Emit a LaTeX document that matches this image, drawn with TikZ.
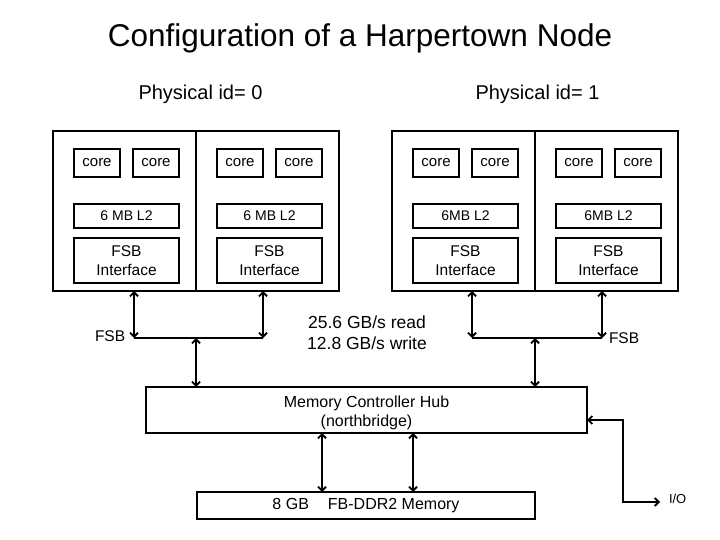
\documentclass[tikz,border=0pt]{standalone}
\usepackage{fontspec}
\setmainfont{Liberation Sans}
\usetikzlibrary{arrows.meta}
\begin{document}
\begin{tikzpicture}[x=1pt,y=-1pt,
  cpu/.style={draw, line width=2.2pt, inner sep=0pt, outer sep=0pt, anchor=north west, minimum width=143pt, minimum height=160pt},
  ibox/.style={draw, line width=1.3pt, inner sep=0pt, outer sep=0pt, anchor=north west, align=center},
  corebox/.style={ibox, minimum width=46pt, minimum height=28pt, font=\fontsize{15}{18}\selectfont},
  l2box/.style={ibox, minimum width=105pt, minimum height=24pt, font=\fontsize{14}{17}\selectfont},
  fsbbox/.style={ibox, minimum width=105pt, minimum height=45pt, font=\fontsize{15.5}{19}\selectfont},
  bigbox/.style={draw, line width=1.7pt, inner sep=0pt, outer sep=0pt, anchor=north west, align=center, font=\fontsize{16}{19}\selectfont},
  lbl/.style={inner sep=0pt, outer sep=0pt},
  bus/.style={line width=1.8pt},
  barb/.tip={Straight Barb[length=4pt,width=8pt]},
  dar/.style={bus, barb-barb}]
\useasboundingbox (0,0) rectangle (720,540);

% title
\node[lbl, anchor=base, font=\fontsize{31.5}{36}\selectfont] (title) at (360,47) {Configuration of a Harpertown Node};
\node[lbl, anchor=base, font=\fontsize{20}{24}\selectfont] (pid0) at (200.5,100) {Physical id= 0};
\node[lbl, anchor=base, font=\fontsize{20}{24}\selectfont] (pid1) at (537.5,100) {Physical id= 1};

% processor halves
\foreach \h/\n/\t in {53/a/6 MB L2, 196/b/6 MB L2, 392/c/6MB L2, 535/d/6MB L2}{
  \node[cpu] (cpu\n) at (\h,131) {};
  \node[corebox] (corea\n) at (\h+21,149) {core};
  \node[corebox] (coreb\n) at (\h+80,149) {core};
  \node[l2box] (l2\n) at (\h+21,204) {\t};
  \node[fsbbox] (fsb\n) at (\h+21,238) {FSB\\Interface};
}

% memory controller hub and memory
\node[bigbox, minimum width=441pt, minimum height=46pt] (mch) at (146,387) {};
\node[lbl, align=center, font=\fontsize{16}{19}\selectfont, yshift=-3pt] (mchtext) at (mch.center) {Memory Controller Hub\\(northbridge)};
\node[bigbox, line width=2pt, minimum width=338pt, minimum height=27pt] (mem) at (197,492) {8 GB\hspace{19pt}FB-DDR2 Memory};

% FSB buses
\coordinate (bl1) at (134,338);
\coordinate (bl2) at (263,338);
\coordinate (blm) at (196,338);
\coordinate (br1) at (472,338);
\coordinate (br2) at (602,338);
\coordinate (brm) at (535,338);
\draw[bus] (bl1) -- (bl2);
\draw[bus] (br1) -- (br2);
\draw[dar] (bl1 |- cpua.south) -- (bl1);
\draw[dar] (bl2 |- cpub.south) -- (bl2);
\draw[dar] (br1 |- cpuc.south) -- (br1);
\draw[dar] (br2 |- cpud.south) -- (br2);
\draw[dar] (blm) -- (blm |- mch.north);
\draw[dar] (brm) -- (brm |- mch.north);

\node[lbl, anchor=base west, font=\fontsize{15.5}{18}\selectfont] (fsbl) at (95,341) {FSB};
\node[lbl, anchor=base west, font=\fontsize{15.5}{18}\selectfont] (fsbr) at (609,343) {FSB};
\node[lbl, anchor=base, font=\fontsize{17.5}{21}\selectfont] (bw1) at (367,328) {25.6 GB/s read};
\node[lbl, anchor=base, font=\fontsize{17.5}{21}\selectfont] (bw2) at (367,349) {12.8 GB/s write};

% memory links
\coordinate (m1) at (322,460);
\coordinate (m2) at (413,460);
\draw[dar] (m1 |- mch.south) -- (m1 |- mem.north);
\draw[dar] (m2 |- mch.south) -- (m2 |- mem.north);

% I/O
\coordinate (io1) at (623,420);
\coordinate (io2) at (623,502);
\coordinate (io3) at (660,502);
\draw[dar] (mch.east |- io1) -- (io1) -- (io2) -- (io3);
\node[lbl, anchor=base west, font=\fontsize{13}{15}\selectfont] (io) at (669,503) {I/O};
\end{tikzpicture}
\end{document}
